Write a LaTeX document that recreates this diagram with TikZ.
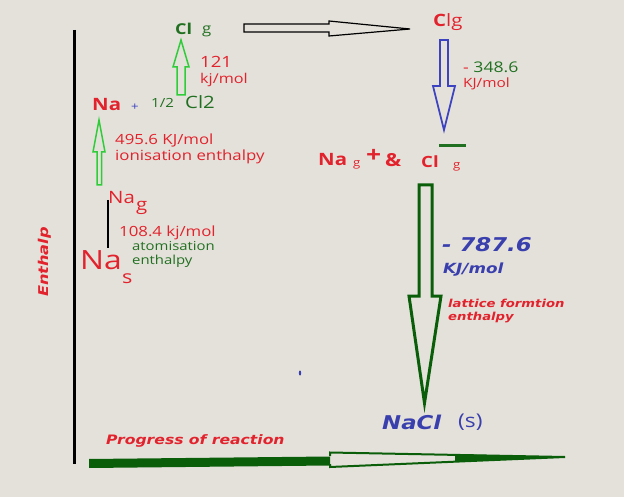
\documentclass[tikz,border=0pt]{standalone}
\usepackage{fontspec}
\setmainfont{Open Sans}[FakeStretch=1.2]
\newfontfamily\dv{DejaVu Sans}[FakeStretch=1.2]
\definecolor{bg}{HTML}{E4E1DA}
\definecolor{tred}{HTML}{E2222C}
\definecolor{tgreen}{HTML}{217021}
\definecolor{dgreen}{HTML}{0A5E0A}
\definecolor{lgreen}{HTML}{2FCC3A}
\definecolor{tblue}{HTML}{3A3FAE}
\definecolor{ablue}{HTML}{3C42C0}
\newcommand\fs[1]{\fontsize{#1}{#1}\selectfont}
\newcommand\bi{\dv\bfseries\itshape}
\begin{document}
\begin{tikzpicture}[x=1pt,y=-1pt,
  every node/.style={inner sep=0pt,anchor=west},
  redt/.style={text=tred},
  greent/.style={text=tgreen},
  bluet/.style={text=tblue},
  hollowlight/.style={draw=lgreen,line width=1.5pt,line join=miter},
  hollowblue/.style={draw=ablue,line width=1.8pt,line join=miter},
  hollowblack/.style={draw=black,line width=1.2pt,line join=miter},
  hollowdark/.style={draw=dgreen,line width=3pt,line join=miter}]
\fill[bg] (0,0) rectangle (624,497);
\useasboundingbox (0,0) rectangle (624,497);
% enthalpy axis
\coordinate (axtop) at (74,30);
\coordinate (axbot) at (74,464);
\draw[line width=3pt] (axtop) -- (axbot);
\node[redt,anchor=center,rotate=90] (enth) at (45,262) {\bi\fs{13.5}Enthalp};
% Na(s) -> Na(g)
\node[redt] (nas) at (80,260) {\fs{26.5}Na};
\node[redt] (nass) at (122,279) {\fs{18}s};
\node[redt] (nag) at (108,198) {\fs{17}Na};
\node[redt] (nags) at (136,208) {\fs{17}g};
\coordinate (at1) at (108,200);
\coordinate (at2) at (108,248);
\draw[line width=2.5pt] (at1) -- (at2);
\node[redt] (atv) at (119,233) {\fs{14}108.4 kj/mol};
\node[greent] (atn1) at (132,246) {\fs{12.4}atomisation};
\node[greent] (atn2) at (132,261) {\fs{12.4}enthalpy};
% ionisation
\draw[hollowlight] (97,185) -- (97,152) -- (93,152) -- (99,120) -- (105,152) -- (101.5,152) -- (101.5,185) -- cycle;
\node[redt] (ionv) at (115,140) {\fs{14}495.6 KJ/mol};
\node[redt] (ionn) at (115,157) {\fs{14}ionisation enthalpy};
\node[redt] (nap) at (92,105) {\fs{17}\bfseries Na};
\node[text=ablue] (napp) at (131,107) {\fs{11}+};
\node[greent] (half) at (151,103) {\fs{12.6}1/2};
\node[greent] (cl2) at (185,102) {\fs{17}Cl2};
% atomisation of Cl
\draw[hollowlight] (177,95) -- (177,67) -- (173,67) -- (181,40) -- (189,67) -- (185,67) -- (185,95) -- cycle;
\node[redt] (clv) at (200,62) {\fs{15.5}121};
\node[redt] (clu) at (200,80) {\fs{13.5}kj/mol};
\node[greent] (clg) at (175,29) {\fs{15}\bfseries Cl};
\node[greent] (clgs) at (202,31) {\fs{14}g};
% black arrow
\draw[hollowblack] (244,24) -- (329,24) -- (329,21) -- (410,29) -- (329,36) -- (329,32) -- (244,32) -- cycle;
\node[redt] (clg2) at (433,22) {\fs{17}\bfseries C\mdseries lg};
% electron affinity
\draw[hollowblue] (440,40) -- (448,40) -- (448,86) -- (455,86) -- (444,130) -- (433,86) -- (440,86) -- cycle;
\node[redt] (eav) at (463,67) {\fs{14.7}- \textcolor{tgreen}{348.6}};
\node[redt] (eau) at (463,84) {\fs{12.8}KJ/mol};
% gaseous ions
\node[redt] (nag2) at (318,160) {\fs{17}\bfseries Na};
\node[redt] (nag2s) at (353,165) {\fs{11}g};
\node[redt] (plus) at (366,156) {\fs{22}\bfseries +};
\node[redt] (amp) at (385,160) {\fs{18}\bfseries \&};
\node[redt] (clm) at (421,162) {\fs{15.5}\bfseries Cl};
\node[redt] (clms) at (453,167) {\fs{11}g};
\coordinate (bar1) at (439,146);
\coordinate (bar2) at (466,146);
\draw[tgreen,line width=3pt] (bar1) -- (bar2);
% lattice enthalpy
\draw[hollowdark] (419,185) -- (432,185) -- (432,296) -- (441,296) -- (424.5,403) -- (409,296) -- (419,296) -- cycle;
\node[bluet] (lev) at (442,245) {\bi\fs{19}- 787.6};
\node[bluet] (leu) at (443,270) {\bi\fs{14}KJ/mol};
\node[redt] (len1) at (448,303) {\bi\fs{11}lattice formtion};
\node[redt] (len2) at (448,318) {\bi\fs{11}enthalpy};
\node[bluet] (nacl) at (382,422) {\bi\fs{19}NaCl};
\node[bluet] (nacls) at (458,422) {\fs{19}(s)};
\fill[tblue] (300,373) ellipse (1.2 and 2.5);
% progress of reaction
\node[redt] (prog) at (106,441) {\bi\fs{13}Progress of reaction};
\fill[dgreen] (89,459) -- (330,456.5) -- (330,465.5) -- (89,468) -- cycle;
\draw[dgreen,line width=2pt,line join=miter] (330,456) -- (330,452.5) -- (565,457) -- (330,467) -- (330,464);
\fill[dgreen] (455,454.2) -- (565,457) -- (455,461.5) -- cycle;
\end{tikzpicture}
\end{document}
